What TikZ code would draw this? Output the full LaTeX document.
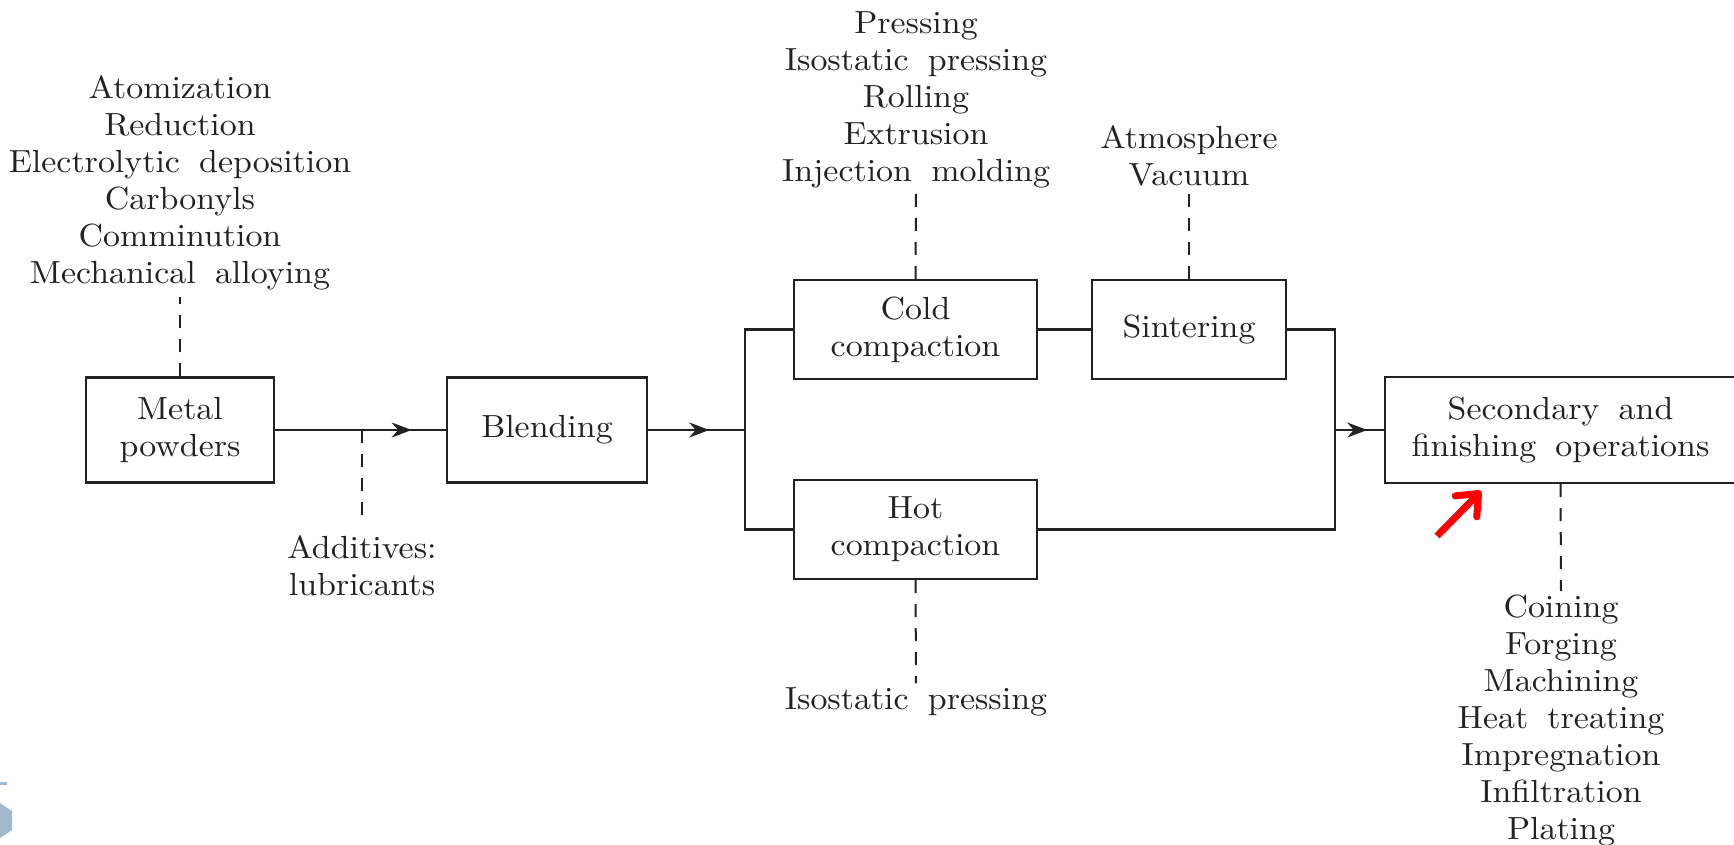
\documentclass[tikz,border=0pt]{standalone}
\usepackage{fontspec}
\setmainfont{lmroman10-regular.otf}[FakeStretch=1.06]
\usetikzlibrary{arrows.meta,decorations.markings}
\definecolor{ink}{HTML}{222222}
\definecolor{artc}{HTML}{A5B9CD}
\definecolor{redarrow}{HTML}{FF0000}
\newcommand\wsp{\hspace{0.6em}}
\begin{document}
\begin{tikzpicture}[x=0.5pt,y=-0.5pt,
  txt/.style={font=\fontsize{16}{18.5}\selectfont, align=center, inner sep=0pt, text=ink},
  box/.style={draw=ink, line width=1.2pt, inner sep=0pt, align=center, font=\fontsize{16}{18.5}\selectfont, text=ink},
  flow/.style={draw=ink, line width=1.1pt},
  dsh/.style={draw=ink, line width=1pt, dash pattern=on 6.5pt off 5.5pt},
  midarrow/.style={postaction={decorate}, decoration={markings, mark=at position #1 with {\arrow{Stealth[length=10pt,width=7.5pt]}}}}
]
\useasboundingbox (0,0) rectangle (1734,845);
\fill[white] (0,0) rectangle (1734,845);

% boxes
\node[box, minimum width=94pt, minimum height=52.5pt] (metal) at (180,430) {Metal\\powders};
\node[box, minimum width=100pt, minimum height=52.5pt] (blend) at (547,430) {Blending};
\node[box, minimum width=121.5pt, minimum height=49.5pt] (cold) at (915.5,329.5) {Cold\\compaction};
\node[box, minimum width=121.5pt, minimum height=49.5pt] (hot) at (915.5,529.5) {Hot\\compaction};
\node[box, minimum width=97pt, minimum height=49.5pt] (sinter) at (1189,329.5) {Sintering};
\node[box, minimum width=175.5pt, minimum height=53pt] (sec) at (1560.5,430) {Secondary\wsp and\\finishing\wsp operations};

% text lists
\node[txt] (src) at (180,183) {Atomization\\Reduction\\Electrolytic\wsp deposition\\Carbonyls\\Comminution\\Mechanical\wsp alloying};
\node[txt] (add) at (362,566) {Additives:\\lubricants};
\node[txt] (form) at (916,100) {Pressing\\Isostatic\wsp pressing\\Rolling\\Extrusion\\Injection\wsp molding};
\node[txt] (atm) at (1189,156) {Atmosphere\\Vacuum};
\node[txt] (hip) at (916,702) {Isostatic\wsp pressing};
\node[txt] (fin) at (1561,721) {Coining\\Forging\\Machining\\Heat\wsp treating\\Impregnation\\Infiltration\\Plating};

% junctions
\coordinate (J1) at (745,430);
\coordinate (J2) at (1335,430);
\coordinate (A) at (362,430);

% flow lines
\draw[flow, midarrow=0.80] (metal.east) -- (blend.west);
\draw[flow, midarrow=0.63] (blend.east) -- (J1);
\draw[flow] (J1) |- (cold.west);
\draw[flow] (J1) |- (hot.west);
\draw[flow] (cold.east) -- (sinter.west);
\draw[flow] (sinter.east) -| (J2);
\draw[flow] (hot.east) -| (J2);
\draw[flow, midarrow=0.66] (J2) -- (sec.west);

% dashed leaders
\draw[dsh, shorten >=3pt] (metal.north) -- (src.south);
\draw[dsh, shorten >=8pt] (A) -- (add.north);
\draw[dsh, shorten >=1pt] (cold.north) -- (form.south);
\draw[dsh, shorten >=1pt] (sinter.north) -- (atm.south);
\draw[dsh, shorten >=2pt] (hot.south) -- (hip.north);
\draw[dsh, shorten >=2pt] (sec.south) -- (fin.north);

% red annotation arrow
\coordinate (ra1) at (1437,536);
\coordinate (ra2) at (1481,491);
\draw[redarrow, line width=3.5pt, -{Straight Barb[length=9pt,width=15pt,round]}] (ra1) -- (ra2);

% slide artifact at bottom left
\fill[artc] (0,803) -- (12,811) -- (12,830) -- (0,838) -- cycle;
\draw[artc, line width=1.5pt] (0,783) -- (7,783);
\end{tikzpicture}
\end{document}
